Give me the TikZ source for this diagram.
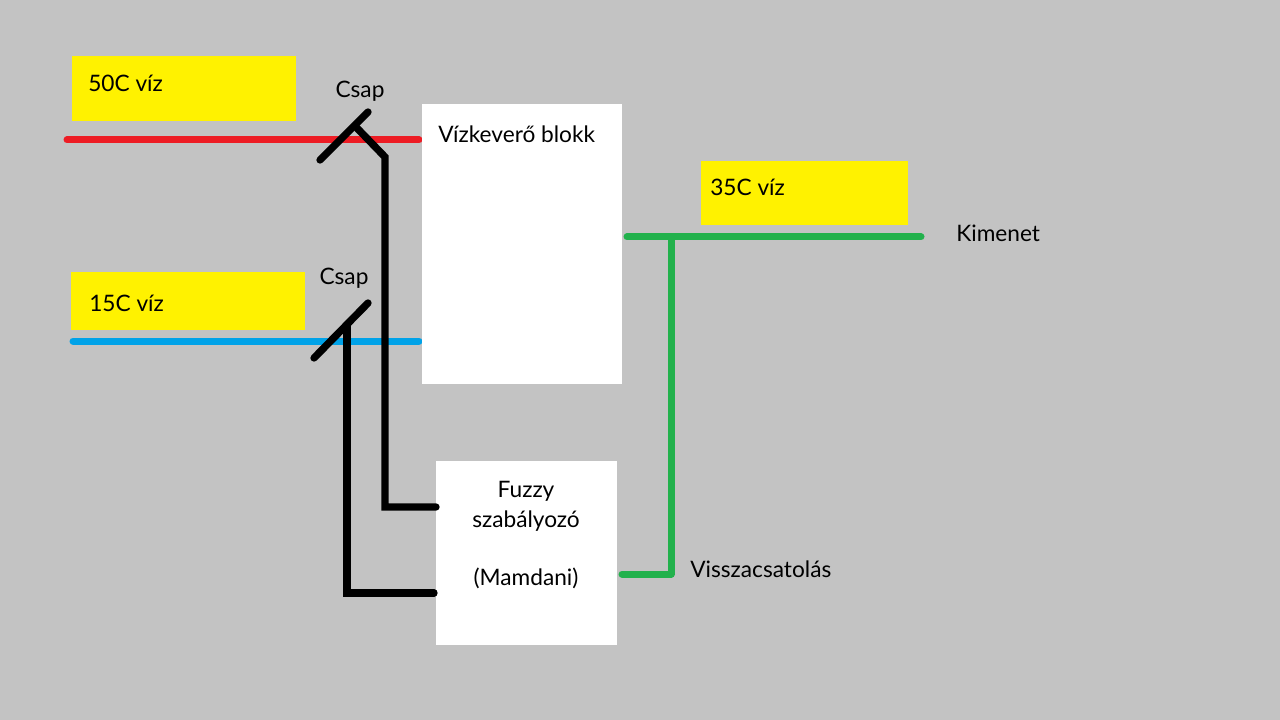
\documentclass[tikz,border=0pt]{standalone}
\usepackage{fontspec}
\setmainfont{Lato}
\definecolor{bggray}{HTML}{C3C3C3}
\definecolor{pipered}{HTML}{ED1C24}
\definecolor{pipeblue}{HTML}{00A2E8}
\definecolor{pipegreen}{HTML}{22B14C}
\definecolor{tagyellow}{HTML}{FFF200}
\tikzset{
	whitebox/.style={fill=white, inner sep=0pt},
	tagbox/.style={fill=tagyellow, inner sep=0pt},
	pipe/.style={line width=5.25pt, line cap=round, line join=round},
	wire/.style={line width=5.5pt, line cap=round, line join=miter, black},
	txt/.style={font=\fontsize{17}{22}\selectfont, inner sep=0pt, text=black}
}
\begin{document}
\begin{tikzpicture}[x=.75pt, y=-.75pt]
	\useasboundingbox[fill=bggray] (0,0) rectangle (1280,720);
	\node[tagbox, minimum width=168pt, minimum height=48.75pt] (hottag) at (184,88.5) {};
	\node[tagbox, minimum width=175.5pt, minimum height=43.5pt] (coldtag) at (188,301) {};
	\node[tagbox, minimum width=155.25pt, minimum height=48pt] (outtag) at (804.5,193) {};
	\node[txt, anchor=west] (hottxt) at (88,83) {50C víz};
	\node[txt, anchor=west] (coldtxt) at (89,303) {15C víz};
	\node[txt, anchor=west] (outtxt) at (710,187) {35C víz};
	\coordinate (hotin) at (67,140);
	\coordinate (coldin) at (73,341);
	\coordinate (hotend) at (419,140);
	\coordinate (coldend) at (419,341);
	\draw[pipe, pipered] (hotin) -- (hotend);
	\draw[pipe, pipeblue] (coldin) -- (coldend);
	\node[whitebox, minimum width=150pt, minimum height=210pt] (mixer) at (522,244) {};
	\node[whitebox, minimum width=135.75pt, minimum height=138pt] (fuzzy) at (526.5,553) {};
	\node[txt, anchor=west] (mixertxt) at (438,134) {Vízkeverő blokk};
	\node[txt, align=center] (fuzzytxt) at (526,535.5) {Fuzzy\\szabályozó\\ \\(Mamdani)};
	\node[txt] (hotcsap) at (360,91) {Csap};
	\node[txt] (coldcsap) at (344,278) {Csap};
	\node[txt, anchor=west] (kimenet) at (956,233) {Kimenet};
	\node[txt, anchor=west] (vissza) at (690,569) {Visszacsatolás};
	\coordinate (outstart) at (627,237);
	\coordinate (outend) at (921,237);
	\coordinate (tap) at (671,237);
	\coordinate (fbend) at (622,574);
	\draw[pipe, pipegreen] (outstart) -- (outend);
	\draw[pipe, pipegreen] (tap) -- (tap |- fbend) -- (fbend);
	\coordinate (hotvalveA) at (320,160);
	\coordinate (hotvalveB) at (368,112);
	\coordinate (hotjoint) at (355,126);
	\coordinate (hotbend) at (385,157);
	\coordinate (coldvalveA) at (314,358);
	\coordinate (coldvalveB) at (368,303);
	\coordinate (coldjoint) at (347,326);
	\coordinate (hotwire) at (436,507);
	\coordinate (coldwire) at (434,593);
	\draw[wire] (hotvalveA) -- (hotvalveB);
	\draw[wire] (coldvalveA) -- (coldvalveB);
	\draw[wire] (hotjoint) -- (hotbend) -- (hotbend |- hotwire) -- (hotwire);
	\draw[wire] (coldjoint) -- (coldjoint |- coldwire) -- (coldwire);
\end{tikzpicture}
\end{document}
